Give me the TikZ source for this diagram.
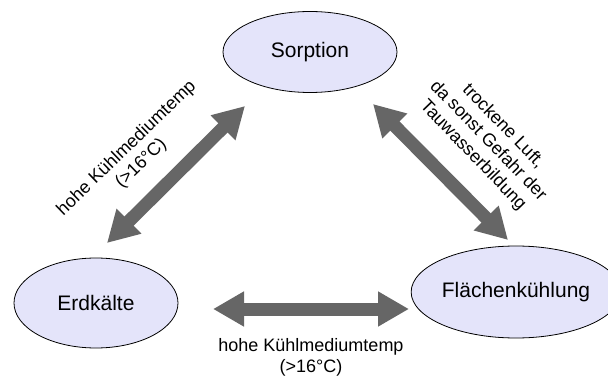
\documentclass[tikz,border=0pt]{standalone}
\usepackage{fontspec}
\setmainfont{Liberation Sans}
\usetikzlibrary{arrows.meta, shapes.geometric, positioning}
\definecolor{ellfill}{RGB}{228,228,250}
\definecolor{pfeilgrau}{RGB}{102,102,102}
\tikzset{
  knoten/.style={ellipse, draw=black, line width=0.8pt, fill=ellfill, inner sep=0pt,
    font=\fontsize{21}{24}\selectfont},
  pfeil/.style={pfeilgrau, line width=13pt,
    {Triangle[width=33pt,length=31pt]}-{Triangle[width=33pt,length=31pt]}},
  beschr/.style={align=center, font=\fontsize{18}{21}\selectfont}
}

\begin{document}
\begin{tikzpicture}[x=1pt,y=-1pt]
		\useasboundingbox (0,0) rectangle (608,377);
		%draw nodes
		\node[knoten, minimum width=174pt, minimum height=81pt] (sorption) at (310,52) {Sorption};
		\node[knoten, minimum width=164pt, minimum height=90pt] (erdkaelte) at (96,303) {Erdkälte};
		\node[knoten, minimum width=180pt, minimum height=92pt] (flaeche) at (516,292) {Flächenkühlung};
		%arrow ends
		\coordinate (el) at (107,243);
		\coordinate (so) at (245,106);
		\coordinate (sr) at (373,104);
		\coordinate (fo) at (508,240);
		\coordinate (eh) at (213,309);
		\coordinate (fh) at (409,309);
		\coordinate (hm) at (311,309);
		%draw arrows
		\draw[pfeil] (el) -- (so);
		\draw[pfeil] (sr) -- (fo);
		\draw[pfeil] (eh) -- (fh);
		%draw labels
		\node[beschr, rotate=44] (lbllinks) at (134,156) {hohe Kühlmediumtemp\\(>16°C)};
		\node[beschr, rotate=-46] (lblrechts) at (488,141) {trockene Luft,\\da sonst Gefahr der\\Tauwasserbildung};
		\node[beschr, below=26pt of hm] (lblunten) {hohe Kühlmediumtemp\\(>16°C)};
\end{tikzpicture}
\end{document}
